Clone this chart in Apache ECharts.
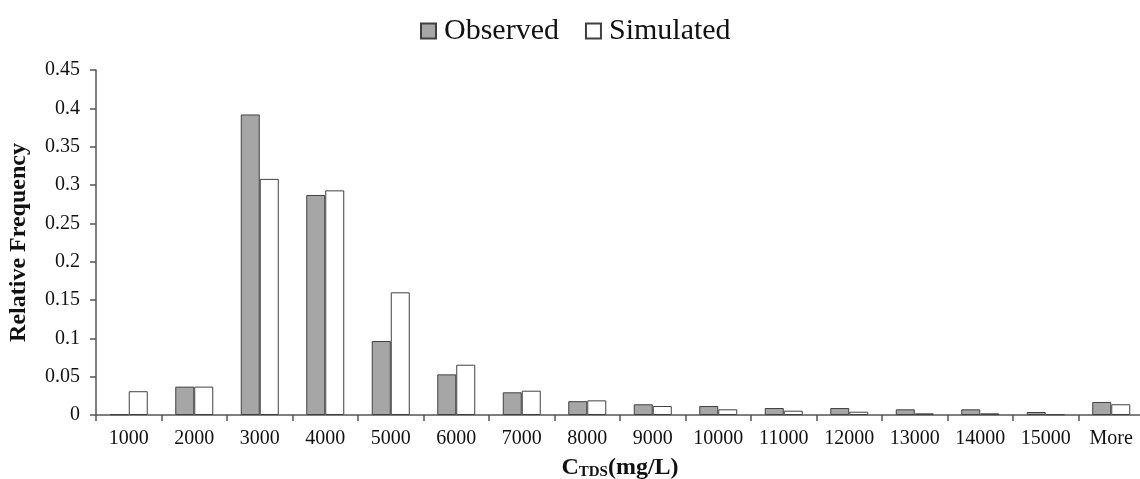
<!DOCTYPE html>
<html>
<head>
<meta charset="utf-8">
<script src="https://cdn.jsdelivr.net/npm/echarts@6/dist/echarts.min.js"></script>
<style>html,body{margin:0;padding:0;background:#fff;}#c{width:1140px;height:479px;}</style>
</head>
<body>
<div id="c"></div>
<script>
const categories = ['1000','2000','3000','4000','5000','6000','7000','8000','9000','10000','11000','12000','13000','14000','15000','More'];
const observed = [0.001,0.037,0.392,0.287,0.0965,0.053,0.0296,0.018,0.014,0.0117,0.0091,0.0091,0.0074,0.0074,0.0039,0.017];
const simulated = [0.031,0.037,0.308,0.293,0.160,0.0656,0.0317,0.0191,0.0117,0.0074,0.0056,0.0043,0.0022,0.0022,0.001,0.014];
const yTicks = ['0','0.05','0.1','0.15','0.2','0.25','0.3','0.35','0.4','0.45'];

const serif = '"Liberation Serif", "DejaVu Serif", serif';
const chart = echarts.init(document.getElementById('c'), null, {renderer:'canvas'});
chart.setOption({
  animation: false,
  backgroundColor: '#fff',
  legend: {
    top: 11,
    left: 415,
    icon: 'rect',
    itemWidth: 15,
    itemHeight: 15,
    itemGap: 26,
    textStyle: {fontFamily: serif, fontSize: 30, color: '#111', padding: [0, 0, 0, 3]},
    data: ['Observed','Simulated']
  },
  grid: {left: 96, right: -4, top: 70, bottom: 64, containLabel: false, outerBoundsMode: 'none'},
  xAxis: {
    type: 'category',
    data: categories,
    boundaryGap: true,
    axisLine: {lineStyle: {color: '#555', width: 1.5}},
    axisTick: {show: true, length: 6, lineStyle: {color: '#555', width: 1.5}},
    axisLabel: {fontFamily: serif, fontSize: 20, color: '#111', margin: 14},
    name: '{b|C}{s|TDS}{b|(mg/L)}',
    nameLocation: 'middle',
    nameGap: 41,
    nameTextStyle: {
      rich: {
        b: {fontFamily: serif, fontSize: 24, fontWeight: 'bold', color: '#111', verticalAlign: 'top', lineHeight: 24},
        s: {fontFamily: serif, fontSize: 15, fontWeight: 'bold', color: '#111', verticalAlign: 'bottom', lineHeight: 24, padding: [9,0,0,0]}
      }
    }
  },
  yAxis: {
    type: 'value',
    min: 0,
    max: 0.45,
    interval: 0.05,
    splitLine: {show: false},
    axisLine: {show: true, lineStyle: {color: '#555', width: 1.5}},
    axisTick: {show: true, length: 6, inside: false, lineStyle: {color: '#555', width: 1.5}},
    axisLabel: {
      fontFamily: serif, fontSize: 20, color: '#111', margin: 16,
      formatter: function (v) { return yTicks[Math.round(v / 0.05)]; }
    },
    name: 'Relative Frequency',
    nameLocation: 'middle',
    nameGap: 65,
    nameTextStyle: {fontFamily: serif, fontSize: 24, fontWeight: 'bold', color: '#111'}
  },
  series: [
    {
      name: 'Observed', type: 'bar', data: observed,
      barWidth: 19, barGap: '0%',
      itemStyle: {color: '#a6a6a6', borderColor: '#404040', borderWidth: 1}
    },
    {
      name: 'Simulated', type: 'bar', data: simulated,
      barWidth: 19,
      itemStyle: {color: '#ffffff', borderColor: '#404040', borderWidth: 1}
    }
  ]
});
</script>
</body>
</html>
